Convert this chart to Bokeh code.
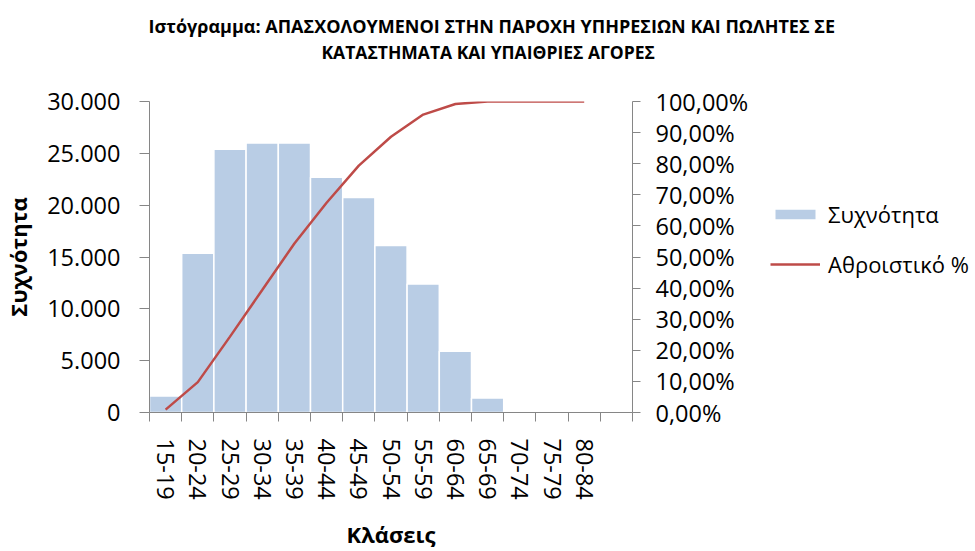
from bokeh.plotting import figure
from bokeh.models import (Range1d, LinearAxis, FixedTicker, Legend, LegendItem,
                          ColumnDataSource, Title)
from bokeh.layouts import row, column
from bokeh.embed import file_html
from bokeh.resources import INLINE

# ---- data ----
classes = ["15-19", "20-24", "25-29", "30-34", "35-39", "40-44", "45-49",
           "50-54", "55-59", "60-64", "65-69", "70-74", "75-79", "80-84", ""]
frequency = [1600, 15350, 25400, 26000, 26000, 22700, 20750,
             16100, 12400, 5900, 1400, 0, 0, 0, 0]
cumulative_pct = [0.92, 9.76, 24.40, 39.37, 54.35, 67.43, 79.38,
                  88.65, 95.79, 99.19, 100.0, 100.0, 100.0, 100.0]
left_ticks = [0, 5000, 10000, 15000, 20000, 25000, 30000]
left_tick_labels = ["0", "5.000", "10.000", "15.000", "20.000", "25.000", "30.000"]
right_ticks = [0, 10, 20, 30, 40, 50, 60, 70, 80, 90, 100]
right_tick_labels = ["0,00%", "10,00%", "20,00%", "30,00%", "40,00%", "50,00%",
                     "60,00%", "70,00%", "80,00%", "90,00%", "100,00%"]
title_line1 = "Ιστόγραμμα: ΑΠΑΣΧΟΛΟΥΜΕΝΟΙ ΣΤΗΝ ΠΑΡΟΧΗ ΥΠΗΡΕΣΙΩΝ ΚΑΙ ΠΩΛΗΤΕΣ ΣΕ"
title_line2 = "ΚΑΤΑΣΤΗΜΑΤΑ ΚΑΙ ΥΠΑΙΘΡΙΕΣ ΑΓΟΡΕΣ"
x_label = "Κλάσεις"
y_label = "Συχνότητα"
bar_name = "Συχνότητα"
line_name = "Αθροιστικό %"

FONT = "Open Sans"
AXIS_GREY = "#868686"
BAR_COLOR = "#B9CDE5"
LINE_COLOR = "#BE4B48"
TICK_FS = "23.5px"

n = len(classes)
centers = [i + 0.5 for i in range(n)]
boundaries = [float(i) for i in range(n + 1)]

bar_src = ColumnDataSource(dict(x=centers, top=frequency))
line_src = ColumnDataSource(dict(x=centers[:len(cumulative_pct)], y=cumulative_pct))


def blank(fig):
    fig.xgrid.grid_line_color = None
    fig.ygrid.grid_line_color = None
    fig.outline_line_color = None
    fig.background_fill_color = "white"
    fig.border_fill_color = "white"


# ---- title strip (full width) ----
t = figure(width=975, height=75, x_axis_type=None, y_axis_type=None,
           output_backend="svg", toolbar_location=None,
           x_range=Range1d(0, 1), y_range=Range1d(0, 1),
           min_border_left=143, min_border_right=343,
           min_border_top=63, min_border_bottom=0)
blank(t)
t.title = Title(text=title_line1, align="left", offset=5, standoff=0,
                text_font=FONT, text_font_size="18px", text_font_style="bold",
                text_color="black")
t.add_layout(Title(text=title_line2, align="left", offset=178, standoff=0,
                   text_font=FONT, text_font_size="17.5px", text_font_style="bold",
                   text_color="black"), "above")

# ---- main chart ----
p = figure(width=760, height=476, x_range=Range1d(0, n), y_range=Range1d(0, 30000),
           output_backend="svg", toolbar_location=None, title=None,
           min_border_left=143, min_border_right=128,
           min_border_top=26, min_border_bottom=136)
p.extra_y_ranges = {"pct": Range1d(0, 100)}
blank(p)

bars = p.vbar(x="x", top="top", width=1.0, source=bar_src,
              fill_color=BAR_COLOR, line_color="white", line_width=1.5)
line = p.line(x="x", y="y", source=line_src, y_range_name="pct",
              line_color=LINE_COLOR, line_width=2.5)

# x axis
xa = p.xaxis[0]
xa.ticker = FixedTicker(ticks=centers[:-1], minor_ticks=boundaries)
xa.major_label_overrides = {c: lab for c, lab in zip(centers, classes)}
xa.major_label_orientation = "vertical"
xa.major_tick_line_color = None
xa.major_tick_out = 9
xa.major_tick_in = 0
xa.minor_tick_line_color = AXIS_GREY
xa.minor_tick_out = 9
xa.minor_tick_in = 0
xa.axis_line_color = AXIS_GREY
xa.major_label_standoff = 17
xa.major_label_text_font = FONT
xa.major_label_text_font_size = TICK_FS
xa.major_label_text_color = "black"
xa.axis_label = x_label
xa.axis_label_text_font = FONT
xa.axis_label_text_font_size = "22px"
xa.axis_label_text_font_style = "bold"
xa.axis_label_text_color = "black"
xa.axis_label_standoff = 16

# left axis
ya = p.yaxis[0]
ya.ticker = FixedTicker(ticks=left_ticks, minor_ticks=[])
ya.major_label_overrides = {t_: lab for t_, lab in zip(left_ticks, left_tick_labels)}
ya.major_tick_out = 10
ya.major_tick_in = 0
ya.major_tick_line_color = AXIS_GREY
ya.minor_tick_line_color = None
ya.axis_line_color = AXIS_GREY
ya.major_label_standoff = 19
ya.major_label_text_font = FONT
ya.major_label_text_font_size = TICK_FS
ya.major_label_text_color = "black"
ya.axis_label = y_label
ya.axis_label_text_font = FONT
ya.axis_label_text_font_size = "22px"
ya.axis_label_text_font_style = "bold"
ya.axis_label_text_color = "black"
ya.axis_label_standoff = 11

# right axis
ra = LinearAxis(y_range_name="pct")
ra.ticker = FixedTicker(ticks=right_ticks, minor_ticks=[])
ra.major_label_overrides = {t_: lab for t_, lab in zip(right_ticks, right_tick_labels)}
ra.major_tick_out = 8
ra.major_tick_in = 0
ra.major_tick_line_color = AXIS_GREY
ra.minor_tick_line_color = None
ra.axis_line_color = AXIS_GREY
ra.major_label_standoff = 15
ra.major_label_text_font = FONT
ra.major_label_text_font_size = TICK_FS
ra.major_label_text_color = "black"
p.add_layout(ra, "right")

# ---- legend panel (separate canvas to the right) ----
q = figure(width=215, height=476, x_axis_type=None, y_axis_type=None, title=None,
           output_backend="svg", toolbar_location=None,
           min_border_left=0, min_border_right=0,
           min_border_top=26, min_border_bottom=136,
           x_range=Range1d(-100, -99), y_range=Range1d(-100, -99))
blank(q)
# same series as the chart; they fall outside this panel's ranges, only the key shows
key_bar = q.vbar(x="x", top="top", width=1.0, source=bar_src,
                 fill_color=BAR_COLOR, line_color=None)
key_line = q.line(x="x", y="y", source=line_src,
                  line_color=LINE_COLOR, line_width=2.5)

legend = Legend(items=[LegendItem(label=bar_name, renderers=[key_bar]),
                       LegendItem(label=line_name, renderers=[key_line])],
                location=(10, 133), orientation="vertical",
                glyph_width=50, glyph_height=12, label_standoff=8,
                spacing=20, padding=0, margin=0,
                border_line_color=None, background_fill_alpha=0,
                label_text_font=FONT, label_text_font_size="22px",
                label_text_color="black", label_height=26)
q.add_layout(legend)

layout = column(t, row(p, q))
open("out.html", "w").write(file_html(layout, INLINE))
